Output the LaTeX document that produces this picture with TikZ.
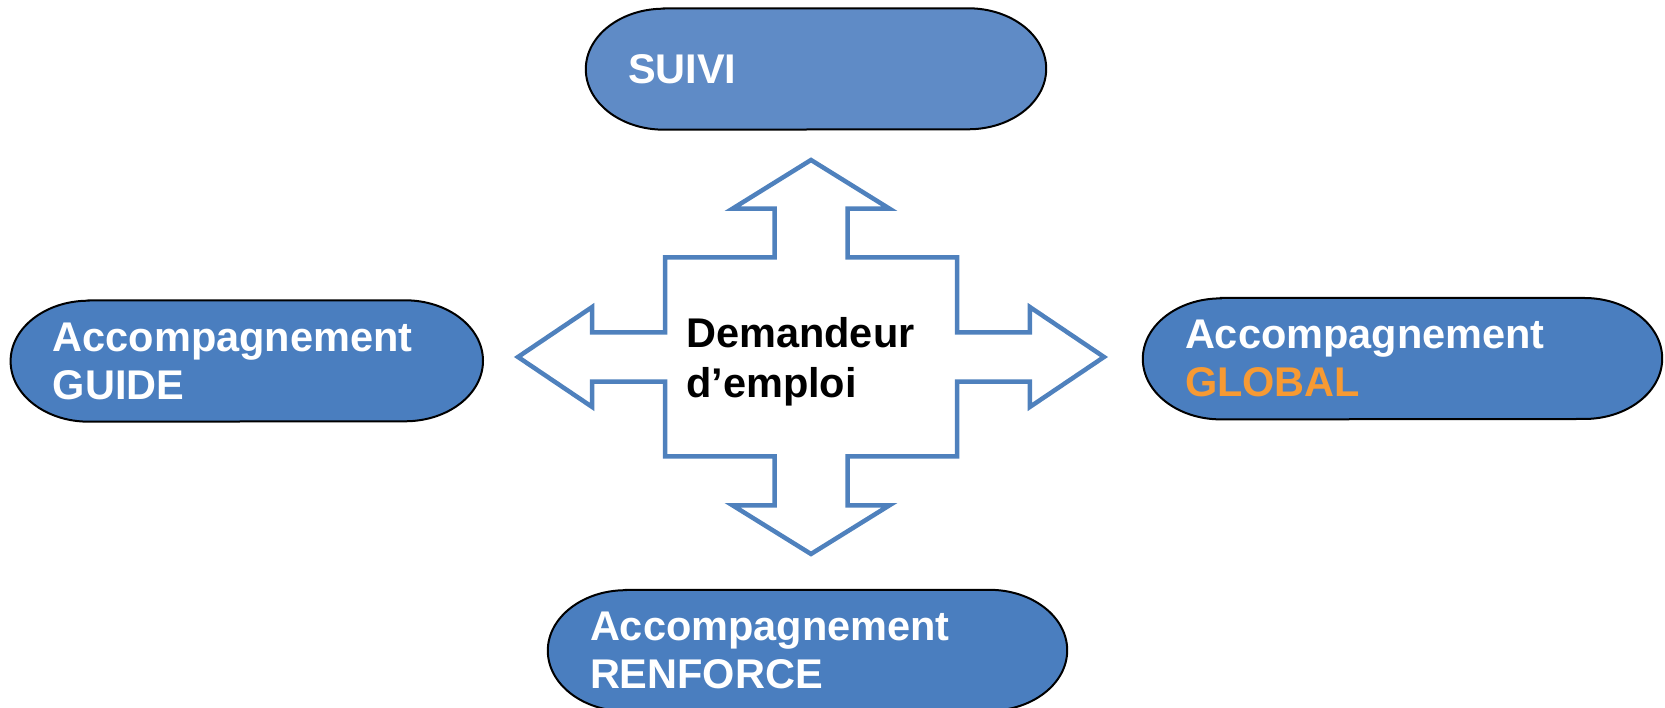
\documentclass[tikz,border=0pt]{standalone}
\usepackage{fontspec}
\setmainfont{Liberation Sans}
\usetikzlibrary{backgrounds}

\definecolor{suiviblue}{HTML}{5F8BC6}
\definecolor{boxblue}{HTML}{4A7EBF}
\definecolor{arrowblue}{HTML}{4F81BD}
\definecolor{globalorange}{HTML}{F79A33}

\newcommand\boxfont{\fontsize{41.5}{48}\selectfont\bfseries}
\newcommand\pillshape[2]{%
	\filldraw[draw=black,line width=2pt,fill=#2]
		([xshift=78pt]#1.north west) -- ([xshift=-78pt]#1.north east)
		arc[start angle=90,end angle=-90,x radius=78pt,y radius=60.5pt]
		-- ([xshift=78pt]#1.south west)
		arc[start angle=270,end angle=90,x radius=78pt,y radius=60.5pt] -- cycle;}

\begin{document}
\begin{tikzpicture}[x=1pt,y=1pt]
	\useasboundingbox (0,0) rectangle (1665,708);

	\begin{scope}[every node/.style={minimum height=121pt,inner xsep=42pt,inner ysep=0pt,align=left,text=white,font=\boxfont}]
		\node[text width=376pt] (suivi) at (816,639) {SUIVI};
		\node[text width=388pt] (guide) at (246.8,347) {Accompagnement\\GUIDE};
		\node[text width=435pt] (global) at (1402.5,349.3) {Accompagnement\\\textcolor{globalorange}{GLOBAL}};
		\node[text width=435pt] (renforce) at (807.5,57.5) {Accompagnement\\RENFORCE};
	\end{scope}

	\begin{scope}[on background layer]
		\pillshape{suivi}{suiviblue}
		\pillshape{guide}{boxblue}
		\pillshape{global}{boxblue}
		\pillshape{renforce}{boxblue}
	\end{scope}

	% croix centrale
	\coordinate (ctr) at (811,351);
	\begin{scope}[shift={(ctr)}]
		\draw[arrowblue,line width=4.5pt]
			(0,197) -- (78.5,148.3) -- (36.5,148.3) -- (36.5,99.5) -- (146,99.5)
			-- (146,24.7) -- (218.8,24.7) -- (218.8,50) -- (293,0) -- (218.8,-50)
			-- (218.8,-24.7) -- (146,-24.7) -- (146,-99.5) -- (36.5,-99.5)
			-- (36.5,-148.3) -- (78.5,-148.3) -- (0,-197) -- (-78.5,-148.3)
			-- (-36.5,-148.3) -- (-36.5,-99.5) -- (-146,-99.5) -- (-146,-24.7)
			-- (-218.8,-24.7) -- (-218.8,-50) -- (-293,0) -- (-218.8,50)
			-- (-218.8,24.7) -- (-146,24.7) -- (-146,99.5) -- (-36.5,99.5)
			-- (-36.5,148.3) -- (-78.5,148.3) -- cycle;
	\end{scope}
	\node[font=\fontsize{41.5}{50}\selectfont\bfseries,align=left,inner sep=0pt,anchor=west] (demandeur) at (686,346) {Demandeur\\d’emploi};
\end{tikzpicture}
\end{document}
